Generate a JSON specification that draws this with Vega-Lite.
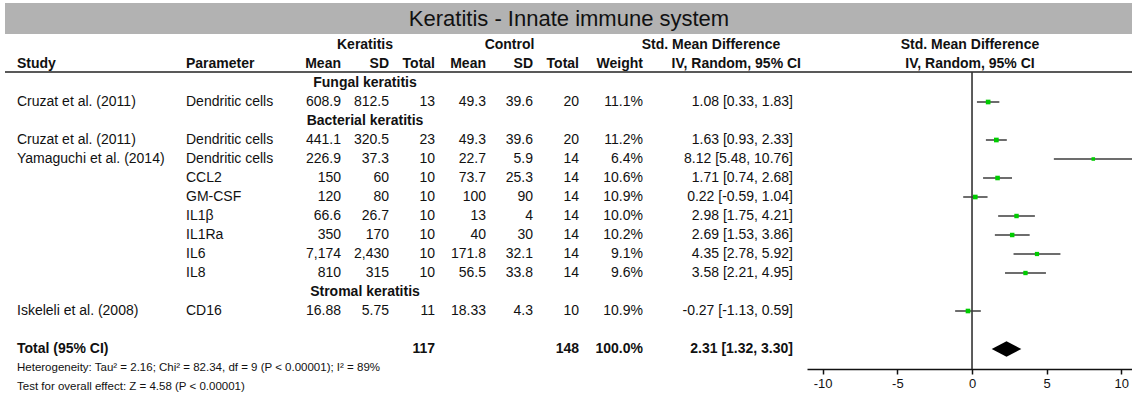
{
  "$schema": "https://vega.github.io/schema/vega-lite/v6.json",
  "padding": {"left": 4, "top": 3, "right": 0, "bottom": 5},
  "background": "white",
  "config": {"view": {"stroke": null}, "text": {"font": "Liberation Sans", "color": "#111"}},
  "datasets": {
    "rows": [
      {"id": "h1", "ksd": "Keratitis", "csd": "Control", "smd": "Std. Mean Difference", "plot": "Std. Mean Difference"},
      {"id": "h2", "study": "Study", "param": "Parameter", "kmean": "Mean", "ksd": "SD", "ktot": "Total", "cmean": "Mean", "csd": "SD", "ctot": "Total", "weight": "Weight", "smd": "IV, Random, 95% CI", "plot": "IV, Random, 95% CI"},
      {"id": "g_fungal", "sub": "Fungal keratitis"},
      {"id": "cruzat_f", "study": "Cruzat et al. (2011)", "param": "Dendritic cells", "kmean": "608.9", "ksd": "812.5", "ktot": "13", "cmean": "49.3", "csd": "39.6", "ctot": "20", "weight": "11.1%", "smd": "1.08 [0.33, 1.83]", "est": 1.08, "lo": 0.33, "hi": 1.83, "w": 11.1},
      {"id": "g_bact", "sub": "Bacterial keratitis"},
      {"id": "cruzat_b", "study": "Cruzat et al. (2011)", "param": "Dendritic cells", "kmean": "441.1", "ksd": "320.5", "ktot": "23", "cmean": "49.3", "csd": "39.6", "ctot": "20", "weight": "11.2%", "smd": "1.63 [0.93, 2.33]", "est": 1.63, "lo": 0.93, "hi": 2.33, "w": 11.2},
      {"id": "yam_dc", "study": "Yamaguchi et al. (2014)", "param": "Dendritic cells", "kmean": "226.9", "ksd": "37.3", "ktot": "10", "cmean": "22.7", "csd": "5.9", "ctot": "14", "weight": "6.4%", "smd": "8.12 [5.48, 10.76]", "est": 8.12, "lo": 5.48, "hi": 10.76, "w": 6.4},
      {"id": "yam_ccl2", "param": "CCL2", "kmean": "150", "ksd": "60", "ktot": "10", "cmean": "73.7", "csd": "25.3", "ctot": "14", "weight": "10.6%", "smd": "1.71 [0.74, 2.68]", "est": 1.71, "lo": 0.74, "hi": 2.68, "w": 10.6},
      {"id": "yam_gmcsf", "param": "GM-CSF", "kmean": "120", "ksd": "80", "ktot": "10", "cmean": "100", "csd": "90", "ctot": "14", "weight": "10.9%", "smd": "0.22 [-0.59, 1.04]", "est": 0.22, "lo": -0.59, "hi": 1.04, "w": 10.9},
      {"id": "yam_il1b", "param": "IL1β", "kmean": "66.6", "ksd": "26.7", "ktot": "10", "cmean": "13", "csd": "4", "ctot": "14", "weight": "10.0%", "smd": "2.98 [1.75, 4.21]", "est": 2.98, "lo": 1.75, "hi": 4.21, "w": 10.0},
      {"id": "yam_il1ra", "param": "IL1Ra", "kmean": "350", "ksd": "170", "ktot": "10", "cmean": "40", "csd": "30", "ctot": "14", "weight": "10.2%", "smd": "2.69 [1.53, 3.86]", "est": 2.69, "lo": 1.53, "hi": 3.86, "w": 10.2},
      {"id": "yam_il6", "param": "IL6", "kmean": "7,174", "ksd": "2,430", "ktot": "10", "cmean": "171.8", "csd": "32.1", "ctot": "14", "weight": "9.1%", "smd": "4.35 [2.78, 5.92]", "est": 4.35, "lo": 2.78, "hi": 5.92, "w": 9.1},
      {"id": "yam_il8", "param": "IL8", "kmean": "810", "ksd": "315", "ktot": "10", "cmean": "56.5", "csd": "33.8", "ctot": "14", "weight": "9.6%", "smd": "3.58 [2.21, 4.95]", "est": 3.58, "lo": 2.21, "hi": 4.95, "w": 9.6},
      {"id": "g_strom", "sub": "Stromal keratitis"},
      {"id": "iskeleli", "study": "Iskeleli et al. (2008)", "param": "CD16", "kmean": "16.88", "ksd": "5.75", "ktot": "11", "cmean": "18.33", "csd": "4.3", "ctot": "10", "weight": "10.9%", "smd": "-0.27 [-1.13, 0.59]", "est": -0.27, "lo": -1.13, "hi": 0.59, "w": 10.9},
      {"id": "total", "study": "Total (95% CI)", "ktot": "117", "ctot": "148", "weight": "100.0%", "smd": "2.31 [1.32, 3.30]", "est": 2.31, "lo": 1.32, "hi": 3.30},
      {"id": "het", "study": "Heterogeneity: Tau² = 2.16; Chi² = 82.34, df = 9 (P < 0.00001); I² = 89%"},
      {"id": "test", "study": "Test for overall effect: Z = 4.58 (P < 0.00001)"}
    ]
  },
  "spacing": 0,
  "bounds": "flush",
  "vconcat": [
    {
      "width": 1128, "height": 31,
      "data": {"values": [{"t": "Keratitis - Innate immune system"}]},
      "layer": [
        {"mark": {"type": "rect", "color": "#b2b2b2"},
         "encoding": {"x": {"datum": 0, "type": "quantitative", "scale": {"domain": [0, 1]}, "axis": null}, "x2": {"datum": 1},
                      "y": {"datum": 0, "type": "quantitative", "scale": {"domain": [0, 1]}, "axis": null}, "y2": {"datum": 1}}},
        {"mark": {"type": "text", "fontSize": 22, "baseline": "middle", "align": "center"},
         "encoding": {"x": {"datum": 0.5, "type": "quantitative"}, "y": {"datum": 0.5, "type": "quantitative"}, "text": {"field": "t"}}}
      ]
    },
    {
      "spacing": 0,
      "bounds": "flush",
      "hconcat": [
        {
          "width": 180, "height": 364, "data": {"name": "rows"},
          "layer": [
            {"transform": [{"filter": "datum.id == 'h2'"}], "mark": {"type": "rule", "yOffset": 8, "color": "#222", "strokeWidth": 1.6},
             "encoding": {"y": {"field": "id", "type": "nominal", "scale": {"type": "point", "domain": ["h1","h2","g_fungal","cruzat_f","g_bact","cruzat_b","yam_dc","yam_ccl2","yam_gmcsf","yam_il1b","yam_il1ra","yam_il6","yam_il8","g_strom","iskeleli","blank","total","het","test"], "padding": 0.579}, "axis": null}}},
            {"transform": [{"filter": "datum.study != null && indexof(['h2','total','het','test'], datum.id) < 0"}],
             "mark": {"type": "text", "align": "left", "baseline": "middle", "dx": 12, "fontSize": 14},
             "encoding": {"x": {"datum": 0, "type": "quantitative", "scale": {"domain": [0, 1]}, "axis": null}, "y": {"field": "id", "type": "nominal"}, "text": {"field": "study"}}},
            {"transform": [{"filter": "indexof(['h2','total'], datum.id) >= 0"}],
             "mark": {"type": "text", "align": "left", "baseline": "middle", "dx": 12, "fontSize": 14, "fontWeight": "bold"},
             "encoding": {"x": {"datum": 0, "type": "quantitative"}, "y": {"field": "id", "type": "nominal"}, "text": {"field": "study"}}},
            {"transform": [{"filter": "indexof(['het','test'], datum.id) >= 0"}],
             "mark": {"type": "text", "align": "left", "baseline": "middle", "dx": 12, "fontSize": 11.5},
             "encoding": {"x": {"datum": 0, "type": "quantitative"}, "y": {"field": "id", "type": "nominal"}, "text": {"field": "study"}}}
          ]
        },
        {
          "width": 106, "height": 364, "data": {"name": "rows"},
          "layer": [
            {"transform": [{"filter": "datum.id == 'h2'"}], "mark": {"type": "rule", "yOffset": 8, "color": "#222", "strokeWidth": 1.6},
             "encoding": {"y": {"field": "id", "type": "nominal", "scale": {"type": "point", "domain": ["h1","h2","g_fungal","cruzat_f","g_bact","cruzat_b","yam_dc","yam_ccl2","yam_gmcsf","yam_il1b","yam_il1ra","yam_il6","yam_il8","g_strom","iskeleli","blank","total","het","test"], "padding": 0.579}, "axis": null}}},
            {"transform": [{"filter": "datum.param != null && datum.id != 'h2'"}],
             "mark": {"type": "text", "align": "left", "baseline": "middle", "dx": 1, "fontSize": 14},
             "encoding": {"x": {"datum": 0, "type": "quantitative", "scale": {"domain": [0, 1]}, "axis": null}, "y": {"field": "id", "type": "nominal"}, "text": {"field": "param"}}},
            {"transform": [{"filter": "datum.id == 'h2'"}],
             "mark": {"type": "text", "align": "left", "baseline": "middle", "dx": 1, "fontSize": 14, "fontWeight": "bold"},
             "encoding": {"x": {"datum": 0, "type": "quantitative"}, "y": {"field": "id", "type": "nominal"}, "text": {"field": "param"}}}
          ]
        },
        {
          "width": 50, "height": 364, "data": {"name": "rows"},
          "layer": [
            {"transform": [{"filter": "datum.id == 'h2'"}], "mark": {"type": "rule", "yOffset": 8, "color": "#222", "strokeWidth": 1.6},
             "encoding": {"y": {"field": "id", "type": "nominal", "scale": {"type": "point", "domain": ["h1","h2","g_fungal","cruzat_f","g_bact","cruzat_b","yam_dc","yam_ccl2","yam_gmcsf","yam_il1b","yam_il1ra","yam_il6","yam_il8","g_strom","iskeleli","blank","total","het","test"], "padding": 0.579}, "axis": null}}},
            {"transform": [{"filter": "datum.kmean != null && datum.id != 'h2'"}],
             "mark": {"type": "text", "align": "right", "baseline": "middle", "fontSize": 14},
             "encoding": {"x": {"datum": 1, "type": "quantitative", "scale": {"domain": [0, 1]}, "axis": null}, "y": {"field": "id", "type": "nominal"}, "text": {"field": "kmean"}}},
            {"transform": [{"filter": "datum.id == 'h2'"}],
             "mark": {"type": "text", "align": "right", "baseline": "middle", "fontSize": 14, "fontWeight": "bold"},
             "encoding": {"x": {"datum": 1, "type": "quantitative"}, "y": {"field": "id", "type": "nominal"}, "text": {"field": "kmean"}}}
          ]
        },
        {
          "width": 48, "height": 364, "data": {"name": "rows"},
          "layer": [
            {"transform": [{"filter": "datum.id == 'h2'"}], "mark": {"type": "rule", "yOffset": 8, "color": "#222", "strokeWidth": 1.6},
             "encoding": {"y": {"field": "id", "type": "nominal", "scale": {"type": "point", "domain": ["h1","h2","g_fungal","cruzat_f","g_bact","cruzat_b","yam_dc","yam_ccl2","yam_gmcsf","yam_il1b","yam_il1ra","yam_il6","yam_il8","g_strom","iskeleli","blank","total","het","test"], "padding": 0.579}, "axis": null}}},
            {"transform": [{"filter": "datum.ksd != null && indexof(['h1','h2'], datum.id) < 0"}],
             "mark": {"type": "text", "align": "right", "baseline": "middle", "fontSize": 14},
             "encoding": {"x": {"datum": 1, "type": "quantitative", "scale": {"domain": [0, 1]}, "axis": null}, "y": {"field": "id", "type": "nominal"}, "text": {"field": "ksd"}}},
            {"transform": [{"filter": "datum.id == 'h2'"}],
             "mark": {"type": "text", "align": "right", "baseline": "middle", "fontSize": 14, "fontWeight": "bold"},
             "encoding": {"x": {"datum": 1, "type": "quantitative"}, "y": {"field": "id", "type": "nominal"}, "text": {"field": "ksd"}}},
            {"transform": [{"filter": "datum.id == 'h1'"}],
             "mark": {"type": "text", "align": "center", "baseline": "middle", "fontSize": 14, "fontWeight": "bold"},
             "encoding": {"x": {"datum": 0.5, "type": "quantitative"}, "y": {"field": "id", "type": "nominal"}, "text": {"field": "ksd"}}},
            {"transform": [{"filter": "datum.sub != null"}],
             "mark": {"type": "text", "align": "center", "baseline": "middle", "fontSize": 14, "fontWeight": "bold"},
             "encoding": {"x": {"datum": 0.5, "type": "quantitative"}, "y": {"field": "id", "type": "nominal"}, "text": {"field": "sub"}}}
          ]
        },
        {
          "width": 46, "height": 364, "data": {"name": "rows"},
          "layer": [
            {"transform": [{"filter": "datum.id == 'h2'"}], "mark": {"type": "rule", "yOffset": 8, "color": "#222", "strokeWidth": 1.6},
             "encoding": {"y": {"field": "id", "type": "nominal", "scale": {"type": "point", "domain": ["h1","h2","g_fungal","cruzat_f","g_bact","cruzat_b","yam_dc","yam_ccl2","yam_gmcsf","yam_il1b","yam_il1ra","yam_il6","yam_il8","g_strom","iskeleli","blank","total","het","test"], "padding": 0.579}, "axis": null}}},
            {"transform": [{"filter": "datum.ktot != null && indexof(['h2','total'], datum.id) < 0"}],
             "mark": {"type": "text", "align": "right", "baseline": "middle", "fontSize": 14},
             "encoding": {"x": {"datum": 1, "type": "quantitative", "scale": {"domain": [0, 1]}, "axis": null}, "y": {"field": "id", "type": "nominal"}, "text": {"field": "ktot"}}},
            {"transform": [{"filter": "indexof(['h2','total'], datum.id) >= 0"}],
             "mark": {"type": "text", "align": "right", "baseline": "middle", "fontSize": 14, "fontWeight": "bold"},
             "encoding": {"x": {"datum": 1, "type": "quantitative"}, "y": {"field": "id", "type": "nominal"}, "text": {"field": "ktot"}}}
          ]
        },
        {
          "width": 51, "height": 364, "data": {"name": "rows"},
          "layer": [
            {"transform": [{"filter": "datum.id == 'h2'"}], "mark": {"type": "rule", "yOffset": 8, "color": "#222", "strokeWidth": 1.6},
             "encoding": {"y": {"field": "id", "type": "nominal", "scale": {"type": "point", "domain": ["h1","h2","g_fungal","cruzat_f","g_bact","cruzat_b","yam_dc","yam_ccl2","yam_gmcsf","yam_il1b","yam_il1ra","yam_il6","yam_il8","g_strom","iskeleli","blank","total","het","test"], "padding": 0.579}, "axis": null}}},
            {"transform": [{"filter": "datum.cmean != null && datum.id != 'h2'"}],
             "mark": {"type": "text", "align": "right", "baseline": "middle", "fontSize": 14},
             "encoding": {"x": {"datum": 1, "type": "quantitative", "scale": {"domain": [0, 1]}, "axis": null}, "y": {"field": "id", "type": "nominal"}, "text": {"field": "cmean"}}},
            {"transform": [{"filter": "datum.id == 'h2'"}],
             "mark": {"type": "text", "align": "right", "baseline": "middle", "fontSize": 14, "fontWeight": "bold"},
             "encoding": {"x": {"datum": 1, "type": "quantitative"}, "y": {"field": "id", "type": "nominal"}, "text": {"field": "cmean"}}}
          ]
        },
        {
          "width": 47, "height": 364, "data": {"name": "rows"},
          "layer": [
            {"transform": [{"filter": "datum.id == 'h2'"}], "mark": {"type": "rule", "yOffset": 8, "color": "#222", "strokeWidth": 1.6},
             "encoding": {"y": {"field": "id", "type": "nominal", "scale": {"type": "point", "domain": ["h1","h2","g_fungal","cruzat_f","g_bact","cruzat_b","yam_dc","yam_ccl2","yam_gmcsf","yam_il1b","yam_il1ra","yam_il6","yam_il8","g_strom","iskeleli","blank","total","het","test"], "padding": 0.579}, "axis": null}}},
            {"transform": [{"filter": "datum.csd != null && indexof(['h1','h2'], datum.id) < 0"}],
             "mark": {"type": "text", "align": "right", "baseline": "middle", "fontSize": 14},
             "encoding": {"x": {"datum": 1, "type": "quantitative", "scale": {"domain": [0, 1]}, "axis": null}, "y": {"field": "id", "type": "nominal"}, "text": {"field": "csd"}}},
            {"transform": [{"filter": "datum.id == 'h2'"}],
             "mark": {"type": "text", "align": "right", "baseline": "middle", "fontSize": 14, "fontWeight": "bold"},
             "encoding": {"x": {"datum": 1, "type": "quantitative"}, "y": {"field": "id", "type": "nominal"}, "text": {"field": "csd"}}},
            {"transform": [{"filter": "datum.id == 'h1'"}],
             "mark": {"type": "text", "align": "center", "baseline": "middle", "fontSize": 14, "fontWeight": "bold"},
             "encoding": {"x": {"datum": 0.5, "type": "quantitative"}, "y": {"field": "id", "type": "nominal"}, "text": {"field": "csd"}}}
          ]
        },
        {
          "width": 46, "height": 364, "data": {"name": "rows"},
          "layer": [
            {"transform": [{"filter": "datum.id == 'h2'"}], "mark": {"type": "rule", "yOffset": 8, "color": "#222", "strokeWidth": 1.6},
             "encoding": {"y": {"field": "id", "type": "nominal", "scale": {"type": "point", "domain": ["h1","h2","g_fungal","cruzat_f","g_bact","cruzat_b","yam_dc","yam_ccl2","yam_gmcsf","yam_il1b","yam_il1ra","yam_il6","yam_il8","g_strom","iskeleli","blank","total","het","test"], "padding": 0.579}, "axis": null}}},
            {"transform": [{"filter": "datum.ctot != null && indexof(['h2','total'], datum.id) < 0"}],
             "mark": {"type": "text", "align": "right", "baseline": "middle", "fontSize": 14},
             "encoding": {"x": {"datum": 1, "type": "quantitative", "scale": {"domain": [0, 1]}, "axis": null}, "y": {"field": "id", "type": "nominal"}, "text": {"field": "ctot"}}},
            {"transform": [{"filter": "indexof(['h2','total'], datum.id) >= 0"}],
             "mark": {"type": "text", "align": "right", "baseline": "middle", "fontSize": 14, "fontWeight": "bold"},
             "encoding": {"x": {"datum": 1, "type": "quantitative"}, "y": {"field": "id", "type": "nominal"}, "text": {"field": "ctot"}}}
          ]
        },
        {
          "width": 64, "height": 364, "data": {"name": "rows"},
          "layer": [
            {"transform": [{"filter": "datum.id == 'h2'"}], "mark": {"type": "rule", "yOffset": 8, "color": "#222", "strokeWidth": 1.6},
             "encoding": {"y": {"field": "id", "type": "nominal", "scale": {"type": "point", "domain": ["h1","h2","g_fungal","cruzat_f","g_bact","cruzat_b","yam_dc","yam_ccl2","yam_gmcsf","yam_il1b","yam_il1ra","yam_il6","yam_il8","g_strom","iskeleli","blank","total","het","test"], "padding": 0.579}, "axis": null}}},
            {"transform": [{"filter": "datum.weight != null && indexof(['h2','total'], datum.id) < 0"}],
             "mark": {"type": "text", "align": "right", "baseline": "middle", "fontSize": 14},
             "encoding": {"x": {"datum": 1, "type": "quantitative", "scale": {"domain": [0, 1]}, "axis": null}, "y": {"field": "id", "type": "nominal"}, "text": {"field": "weight"}}},
            {"transform": [{"filter": "indexof(['h2','total'], datum.id) >= 0"}],
             "mark": {"type": "text", "align": "right", "baseline": "middle", "fontSize": 14, "fontWeight": "bold"},
             "encoding": {"x": {"datum": 1, "type": "quantitative"}, "y": {"field": "id", "type": "nominal"}, "text": {"field": "weight"}}}
          ]
        },
        {
          "width": 164, "height": 364, "data": {"name": "rows"},
          "layer": [
            {"transform": [{"filter": "datum.id == 'h2'"}], "mark": {"type": "rule", "yOffset": 8, "color": "#222", "strokeWidth": 1.6},
             "encoding": {"y": {"field": "id", "type": "nominal", "scale": {"type": "point", "domain": ["h1","h2","g_fungal","cruzat_f","g_bact","cruzat_b","yam_dc","yam_ccl2","yam_gmcsf","yam_il1b","yam_il1ra","yam_il6","yam_il8","g_strom","iskeleli","blank","total","het","test"], "padding": 0.579}, "axis": null}}},
            {"transform": [{"filter": "datum.smd != null && indexof(['h1','h2','total'], datum.id) < 0"}],
             "mark": {"type": "text", "align": "right", "baseline": "middle", "dx": -14, "fontSize": 14},
             "encoding": {"x": {"datum": 1, "type": "quantitative", "scale": {"domain": [0, 1]}, "axis": null}, "y": {"field": "id", "type": "nominal"}, "text": {"field": "smd"}}},
            {"transform": [{"filter": "datum.id == 'total'"}],
             "mark": {"type": "text", "align": "right", "baseline": "middle", "dx": -14, "fontSize": 14, "fontWeight": "bold"},
             "encoding": {"x": {"datum": 1, "type": "quantitative"}, "y": {"field": "id", "type": "nominal"}, "text": {"field": "smd"}}},
            {"transform": [{"filter": "datum.id == 'h2'"}],
             "mark": {"type": "text", "align": "right", "baseline": "middle", "dx": -6, "fontSize": 14, "fontWeight": "bold"},
             "encoding": {"x": {"datum": 1, "type": "quantitative"}, "y": {"field": "id", "type": "nominal"}, "text": {"field": "smd"}}},
            {"transform": [{"filter": "datum.id == 'h1'"}],
             "mark": {"type": "text", "align": "center", "baseline": "middle", "dx": -14, "fontSize": 14, "fontWeight": "bold"},
             "encoding": {"x": {"datum": 0.5, "type": "quantitative"}, "y": {"field": "id", "type": "nominal"}, "text": {"field": "smd"}}}
          ]
        },
        {
          "width": 326, "height": 364, "data": {"name": "rows"},
          "layer": [
            {"transform": [{"filter": "datum.id == 'h2'"}], "mark": {"type": "rule", "yOffset": 8, "color": "#222", "strokeWidth": 1.6},
             "encoding": {"y": {"field": "id", "type": "nominal", "scale": {"type": "point", "domain": ["h1","h2","g_fungal","cruzat_f","g_bact","cruzat_b","yam_dc","yam_ccl2","yam_gmcsf","yam_il1b","yam_il1ra","yam_il6","yam_il8","g_strom","iskeleli","blank","total","het","test"], "padding": 0.579}, "axis": null}}},
            {"transform": [{"filter": "datum.plot != null"}],
             "mark": {"type": "text", "align": "center", "baseline": "middle", "fontSize": 14, "fontWeight": "bold"},
             "encoding": {"y": {"field": "id", "type": "nominal"}, "text": {"field": "plot"}}},
            {"transform": [{"filter": "datum.id == 'h2'"}],
             "mark": {"type": "rule", "color": "#333", "strokeWidth": 1.6, "yOffset": 8, "y2Offset": 1},
             "encoding": {"x": {"datum": 0, "type": "quantitative"}, "y": {"field": "id", "type": "nominal"}, "y2": {"datum": "het"}}},
            {"transform": [{"filter": "datum.lo != null && datum.id != 'total'"}],
             "mark": {"type": "rule", "color": "#3c3c3c", "strokeWidth": 1.5},
             "encoding": {
               "x": {"field": "lo", "type": "quantitative", "scale": {"domain": [-11.05, 10.78], "nice": false, "zero": false},
                     "axis": {"orient": "bottom", "offset": -29, "values": [-10, -5, 0, 5, 10], "title": null, "grid": false, "domainColor": "#111", "domainWidth": 1.5, "tickColor": "#111", "tickWidth": 1.5, "tickSize": 5, "labelFontSize": 13, "labelColor": "#111", "labelFont": "Liberation Sans", "labelPadding": 3, "labelFlush": false, "labelExpr": "'' + datum.value"}},
               "x2": {"field": "hi"},
               "y": {"field": "id", "type": "nominal"}}},
            {"transform": [{"filter": "datum.w != null"}],
             "mark": {"type": "point", "shape": "square", "filled": true, "color": "#00cc00", "opacity": 1},
             "encoding": {"x": {"field": "est", "type": "quantitative"}, "y": {"field": "id", "type": "nominal"},
                          "size": {"field": "w", "type": "quantitative", "scale": {"domain": [0, 11.2], "range": [0, 22], "zero": true}, "legend": null}}},
            {"transform": [{"filter": "datum.id == 'total'"}],
             "mark": {"type": "point", "shape": "M-1,0L0,-0.53L1,0L0,0.53Z", "filled": true, "color": "#000", "opacity": 1, "size": 876},
             "encoding": {"x": {"field": "est", "type": "quantitative"}, "y": {"field": "id", "type": "nominal"}}}
          ]
        }
      ]
    }
  ]
}
